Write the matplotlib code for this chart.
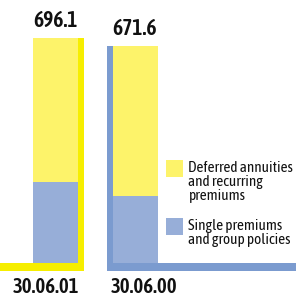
import matplotlib
matplotlib.use("Agg")
import matplotlib.pyplot as plt
from matplotlib.patches import Rectangle
from matplotlib import font_manager

# ---- data ----
dates = ["30.06.01", "30.06.00"]
totals = [696.1, 671.6]
single_group = [250.0, 207.0]
deferred_recurring = [t - s for t, s in zip(totals, single_group)]
series_labels = ["Deferred annuities\nand recurring\npremiums",
                 "Single premiums\nand group policies"]

# ---- style ----
fill_yellow = "#FDF36A"
fill_blue = "#97AED8"
accent_yellow = "#F6EE00"
accent_blue = "#7B9BCF"

names = {f.name for f in font_manager.fontManager.ttflist}
fam = [n for n in ["Asap Condensed", "Archivo Narrow", "Barlow Semi Condensed", "Roboto"] if n in names][:1]
plt.rcParams["font.family"] = fam + ["DejaVu Sans"]

W = H = 296
fig = plt.figure(figsize=(W / 100, H / 100), dpi=100)
ax = fig.add_axes([0, 0, 1, 1])

k = totals[0] / 225.0            # data units per pixel (vertical)
base_px = 33                     # y=0 at 33 px above bottom
ax.set_ylim(-base_px * k, (H - base_px) * k)
px = 79.5                        # pixels per x unit
x0px = 55.5
ax.set_xlim(-x0px / px, (W - x0px) / px)
ax.axis("off")

xs = [0, 1]
width = 45 / px
ax.bar(xs, single_group, width, color=fill_blue, zorder=2)
ax.bar(xs, deferred_recurring, width, bottom=single_group, color=fill_yellow, zorder=2)

# decorative frames
strip_w = 6 / px
line_h = 8 * k
ax.add_patch(Rectangle((xs[0] + width / 2, -line_h), strip_w, totals[0] + line_h,
                       color=accent_yellow, lw=0, zorder=3))
ax.add_patch(Rectangle((-x0px / px - 1, -line_h), (xs[0] + width / 2 + strip_w) - (-x0px / px - 1), line_h,
                       color=accent_yellow, lw=0, zorder=3))
ax.add_patch(Rectangle((xs[1] - width / 2 - strip_w, -line_h), strip_w, totals[1] + line_h,
                       color=accent_blue, lw=0, zorder=3))
ax.add_patch(Rectangle((xs[1] - width / 2 - strip_w, -line_h), 5, line_h,
                       color=accent_blue, lw=0, zorder=3))

# value labels
for x, t in zip(xs, totals):
    ax.text(x, t + 6 * k, f"{t:.1f}", ha="center", va="bottom",
            fontsize=15.5, fontweight="semibold", color="#111111")

# date labels
date_x = [(46 - x0px) / px, (144 - x0px) / px]
for x, d in zip(date_x, dates):
    ax.text(x, -30 * k, d, ha="center", va="baseline",
            fontsize=15, fontweight="semibold", color="#111111")

# legend
lx = (166 - x0px) / px
sq_w = 17 / px
sq_h = 17 * k
ax.add_patch(Rectangle((lx, (263 - 177) * k), sq_w, sq_h, color=fill_yellow, lw=0))
ax.add_patch(Rectangle((lx, (263 - 235) * k), sq_w, sq_h, color=fill_blue, lw=0))
tx = (188 - x0px) / px
ax.text(tx, (263 - 161) * k, series_labels[0], ha="left", va="top",
        fontsize=11, color="#111111", linespacing=1.0)
ax.text(tx, (263 - 219) * k, series_labels[1], ha="left", va="top",
        fontsize=11, color="#111111", linespacing=1.0)

fig.savefig("out.png", dpi=100)
